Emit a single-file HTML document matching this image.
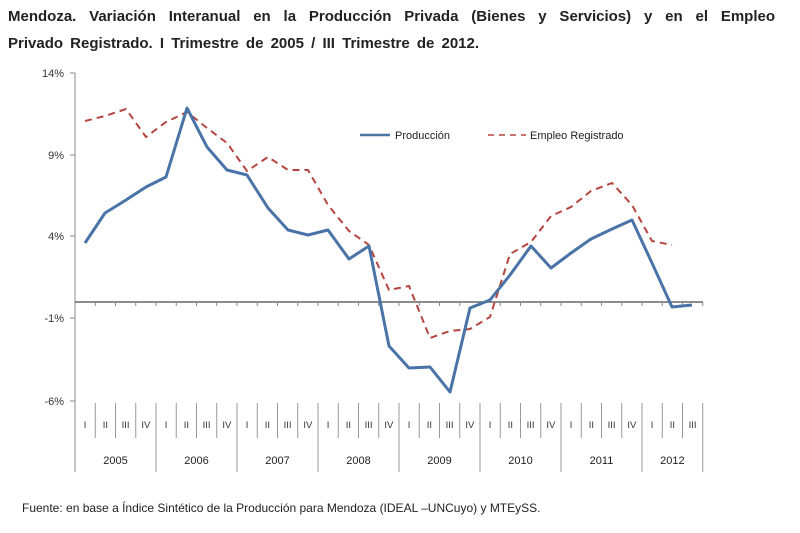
<!DOCTYPE html>
<html><head><meta charset="utf-8"><style>
body{margin:0;background:#fff;width:800px;height:533px;overflow:hidden;font-family:"Liberation Sans",sans-serif}
.t{position:absolute;left:8px;font-weight:bold;font-size:15px;color:#222;white-space:nowrap}
</style></head><body>
<div class="t" style="top:8px;width:767px;text-align:justify;text-align-last:justify">Mendoza. Variación Interanual en la Producción Privada (Bienes y Servicios) y en el Empleo</div>
<div class="t" style="top:35px;word-spacing:3px">Privado Registrado. I Trimestre de 2005 / III Trimestre de 2012.</div>
<svg width="800" height="533" style="position:absolute;left:0;top:0" font-family="Liberation Sans, sans-serif">
<g font-size="11" fill="#333" text-anchor="end">
<text x="64" y="77">14%</text><text x="64" y="159">9%</text><text x="64" y="240">4%</text><text x="64" y="322">-1%</text><text x="64" y="405">-6%</text>
</g>
<g stroke="#888" stroke-width="1">
<line x1="75" y1="73" x2="75" y2="472"/>
<line x1="70" y1="73" x2="75" y2="73"/><line x1="70" y1="155" x2="75" y2="155"/><line x1="70" y1="236" x2="75" y2="236"/><line x1="70" y1="318" x2="75" y2="318"/><line x1="70" y1="401" x2="75" y2="401"/>
</g>
<line x1="75" y1="302" x2="703" y2="302" stroke="#666" stroke-width="1.5"/>
<path stroke="#888" fill="none" d="M95.25 302v4M115.5 302v4M135.75 302v4M156 302v4M176.25 302v4M196.5 302v4M216.75 302v4M237 302v4M257.25 302v4M277.5 302v4M297.75 302v4M318 302v4M338.25 302v4M358.5 302v4M378.75 302v4M399 302v4M419.25 302v4M439.5 302v4M459.75 302v4M480 302v4M500.25 302v4M520.5 302v4M540.75 302v4M561 302v4M581.25 302v4M601.5 302v4M621.75 302v4M642 302v4M662.25 302v4M682.5 302v4M702.75 302v4"/>
<path stroke="#999" fill="none" d="M95.25 403v35M115.5 403v35M135.75 403v35M176.25 403v35M196.5 403v35M216.75 403v35M257.25 403v35M277.5 403v35M297.75 403v35M338.25 403v35M358.5 403v35M378.75 403v35M419.25 403v35M439.5 403v35M459.75 403v35M500.25 403v35M520.5 403v35M540.75 403v35M581.25 403v35M601.5 403v35M621.75 403v35M662.25 403v35M682.5 403v35M156 403v69M237 403v69M318 403v69M399 403v69M480 403v69M561 403v69M642 403v69M702.75 403v69"/>
<g font-size="9.5" fill="#333" text-anchor="middle">
<text x="85.1" y="428">I</text><text x="105.4" y="428">II</text><text x="125.6" y="428">III</text><text x="145.9" y="428">IV</text>
<text x="166.1" y="428">I</text><text x="186.4" y="428">II</text><text x="206.6" y="428">III</text><text x="226.9" y="428">IV</text>
<text x="247.1" y="428">I</text><text x="267.4" y="428">II</text><text x="287.6" y="428">III</text><text x="307.9" y="428">IV</text>
<text x="328.1" y="428">I</text><text x="348.4" y="428">II</text><text x="368.6" y="428">III</text><text x="388.9" y="428">IV</text>
<text x="409.1" y="428">I</text><text x="429.4" y="428">II</text><text x="449.6" y="428">III</text><text x="469.9" y="428">IV</text>
<text x="490.1" y="428">I</text><text x="510.4" y="428">II</text><text x="530.6" y="428">III</text><text x="550.9" y="428">IV</text>
<text x="571.1" y="428">I</text><text x="591.4" y="428">II</text><text x="611.6" y="428">III</text><text x="631.9" y="428">IV</text>
<text x="652.1" y="428">I</text><text x="672.4" y="428">II</text><text x="692.6" y="428">III</text>
</g>
<g font-size="11" fill="#222" text-anchor="middle">
<text x="115.5" y="464">2005</text><text x="196.5" y="464">2006</text><text x="277.5" y="464">2007</text><text x="358.5" y="464">2008</text><text x="439.5" y="464">2009</text><text x="520.5" y="464">2010</text><text x="601.5" y="464">2011</text><text x="672.4" y="464">2012</text>
</g>
<polyline fill="none" stroke="#b5453f" stroke-width="2" stroke-dasharray="7,5" points="85,121 105,116 126,109 146,137 166,122 187,112 207,128 227,143 247,171 268,157 288,170 308,170 328,205 349,231 369,245 389,290 409,286 430,338 450,331 470,329 490,317 510,254 531,242 551,216 571,207 591,191 612,183 632,205 652,241 672,245"/>
<polyline fill="none" stroke="#4a73a8" stroke-width="3" stroke-linejoin="round" points="85,243 105,213 126,200 146,187 166,177 187,108 207,147 227,170 247,175 268,208 288,230 308,235 328,230 349,259 369,246 389,346 409,368 430,367 450,392 470,308 490,300 510,275 531,246 551,268 571,253 591,239 612,229 632,220 652,263 672,307 692,305"/>
<line x1="360" y1="135" x2="390" y2="135" stroke="#4a73a8" stroke-width="2.5"/>
<text x="395" y="139" font-size="11" fill="#222">Producción</text>
<line x1="488" y1="135" x2="526" y2="135" stroke="#b5453f" stroke-width="1.5" stroke-dasharray="6,5"/>
<text x="530" y="139" font-size="11" fill="#222">Empleo Registrado</text>
<text x="22" y="512" font-size="12" fill="#222">Fuente: en base a Índice Sintético de la Producción para Mendoza (IDEAL –UNCuyo) y MTEySS.</text>
</svg>
</body></html>
